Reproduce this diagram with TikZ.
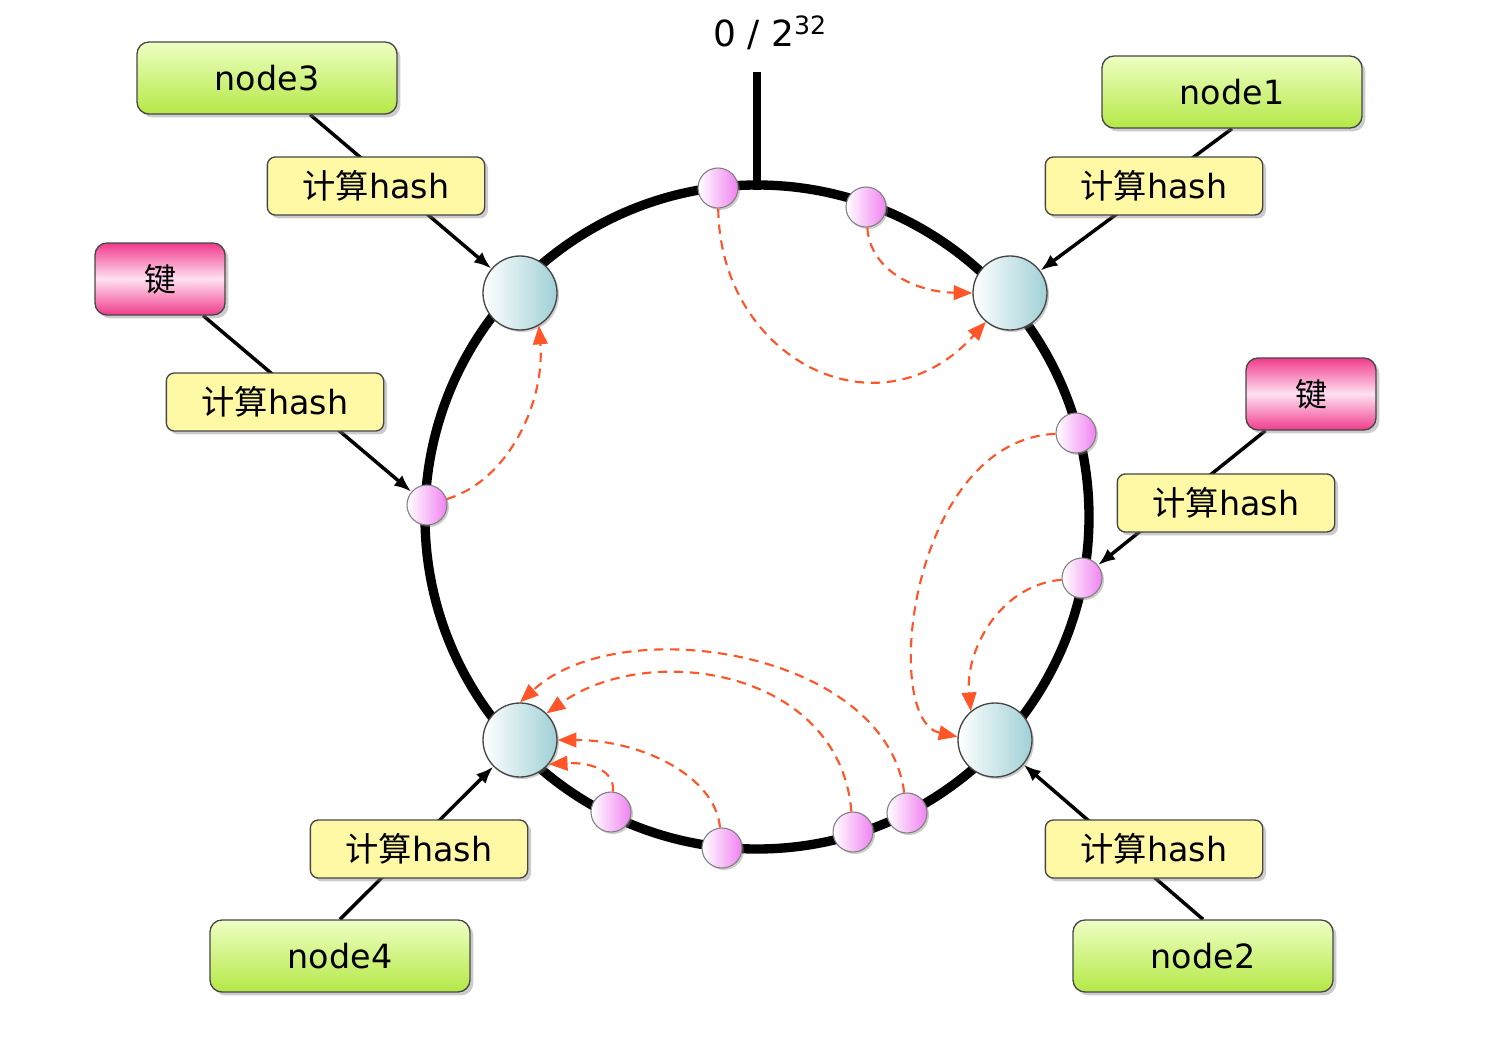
\documentclass[tikz,border=0pt]{standalone}
\usepackage{fontspec}
\setmainfont{DejaVu Sans}
\newfontfamily\cjk{Noto Sans CJK SC}
\usetikzlibrary{shadows,backgrounds,arrows.meta}

\definecolor{hostlight}{RGB}{238,255,195}
\definecolor{hostdark}{RGB}{180,232,70}
\definecolor{keydark}{RGB}{240,60,140}
\definecolor{keylight}{RGB}{255,225,242}
\definecolor{hashfill}{RGB}{255,248,165}
\definecolor{serverteal}{RGB}{160,208,214}
\definecolor{slotpink}{RGB}{240,130,240}
\definecolor{hopred}{RGB}{255,85,40}
\definecolor{rim}{RGB}{70,70,70}

\tikzset{
  box/.style={rounded corners=9pt, draw=rim, line width=1pt, inner sep=0pt,
    drop shadow={opacity=0.4, shadow xshift=2.5pt, shadow yshift=-2.5pt},
    font=\fontsize{25}{30}\selectfont},
  hostbox/.style={box, minimum width=195pt, minimum height=54pt,
    top color=hostlight, bottom color=hostdark},
  hashbox/.style={box, rounded corners=6pt, minimum width=163pt, minimum height=43.5pt, fill=hashfill},
  keybox/.style={box, minimum width=97.5pt, minimum height=54pt,
    top color=keydark, bottom color=keydark, middle color=keylight,
    font=\cjk\fontsize{24}{28}\selectfont},
  server/.style={circle, draw=rim, line width=1pt, minimum size=55.5pt, inner sep=0pt,
    left color=white, right color=serverteal,
    drop shadow={opacity=0.4, shadow xshift=1.5pt, shadow yshift=-1.5pt}},
  slot/.style={circle, draw=gray, line width=0.8pt, minimum size=30pt, inner sep=0pt,
    left color=white, right color=slotpink,
    drop shadow={opacity=0.4, shadow xshift=1.5pt, shadow yshift=-1.5pt}},
  ring/.style={line width=7pt},
  tick/.style={line width=6pt},
  hashto/.style={line width=2.6pt, -{Latex[length=13pt,width=10pt]}},
  hop/.style={hopred, line width=1.6pt, dash pattern=on 7pt off 5pt,
    -{Triangle[length=14pt,width=11pt]}}
}

\begin{document}
\begin{tikzpicture}[x=0.75pt,y=0.75pt,yscale=-1,xscale=1]
  \useasboundingbox (0,0) rectangle (1492,1038);

  % top label
  \node[font=\fontsize{27}{32}\selectfont] (zero) at (770,33) {0 / 2\textsuperscript{32}};

  % hosts
  \node[hostbox] (node3) at (267,78) {node3};
  \node[hostbox] (node1) at (1232,92) {node1};
  \node[hostbox] (node2) at (1203,956) {node2};
  \node[hostbox] (node4) at (340,956) {node4};

  % keys
  \node[keybox] (keyL) at (160,279) {键};
  \node[keybox] (keyR) at (1311,394) {键};

  % hash steps
  \node[hashbox] (hash3) at (376,186) {{\cjk 计算}hash};
  \node[hashbox] (hash1) at (1154,186) {{\cjk 计算}hash};
  \node[hashbox] (hashL) at (275,402) {{\cjk 计算}hash};
  \node[hashbox] (hashR) at (1226,503) {{\cjk 计算}hash};
  \node[hashbox] (hash2) at (1154,849) {{\cjk 计算}hash};
  \node[hashbox] (hash4) at (419,849) {{\cjk 计算}hash};

  % servers on the ring
  \node[server] (s3) at (520,293) {};
  \node[server] (s1) at (1010,293) {};
  \node[server] (s2) at (995,740) {};
  \node[server] (s4) at (520,740) {};

  % key slots on the ring
  \node[slot] (ka) at (718,188) {};
  \node[slot] (kb) at (866,207) {};
  \node[slot] (kc) at (427,505) {};
  \node[slot] (kd) at (1076,433) {};
  \node[slot] (ke) at (1082,578) {};
  \node[slot] (kf) at (611,812) {};
  \node[slot] (kg) at (722,848) {};
  \node[slot] (kh) at (853,832) {};
  \node[slot] (ki) at (907,813) {};

  \begin{scope}[on background layer]
    % ring and zero mark
    \draw[ring] (757,517) circle (332);
    \draw[tick] (757,72) -- (757,190);
    % hashing onto the ring
    \draw[hashto] (node3) -- (s3);
    \draw[hashto] (node1.south) -- (s1);
    \draw[hashto] (node2.north) -- (s2);
    \draw[hashto] (node4.north) -- (s4);
    \draw[hashto] (keyL) -- (kc);
    \draw[hashto] (keyR) -- (ke);
  \end{scope}

  % clockwise lookup
  \draw[hop] (ka) .. controls (720,360) and (880,440) .. (s1.-130);
  \draw[hop] (kb) .. controls (870,270) and (915,292) .. (s1.west);
  \draw[hop] (kc) .. controls (510,480) and (545,400) .. (s3.-60);
  \draw[hop] (kd) .. controls (910,440) and (880,720) .. (s2.175);
  \draw[hop] (ke) .. controls (1000,585) and (965,650) .. (s2.130);
  \draw[hop] (ki) .. controls (885,650) and (620,610) .. (s4.north);
  \draw[hop] (kh) .. controls (840,670) and (650,640) .. (s4.45);
  \draw[hop] (kg) .. controls (715,775) and (640,740) .. (s4.east);
  \draw[hop] (kf) .. controls (615,770) and (590,762) .. (s4.-40);
\end{tikzpicture}
\end{document}
